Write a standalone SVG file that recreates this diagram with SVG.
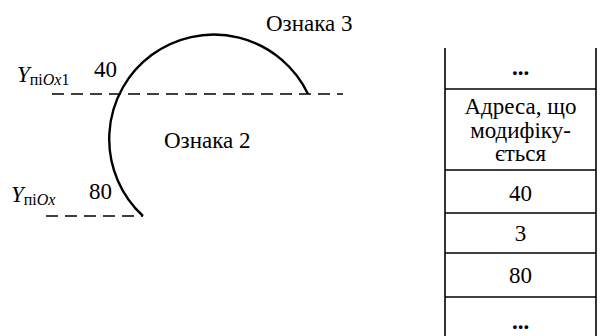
<svg xmlns="http://www.w3.org/2000/svg" width="600" height="336" viewBox="0 0 600 336" font-family="'Liberation Serif', 'DejaVu Serif', serif">
<style>
text{font-family:'Liberation Serif','DejaVu Serif',serif;font-size:23px;fill:#000}
.c{text-anchor:middle}
.i{font-style:italic}
.sub{font-size:16px}
.dash{stroke:#000;stroke-width:1.6;stroke-dasharray:12 7;fill:none}
.arc{stroke:#000;stroke-width:2.4;fill:none}
.tl{stroke:#000;stroke-width:1.6;fill:none}
.dots{font-weight:bold}
</style>
<rect width="600" height="336" fill="#fff"/>
<g id="connectors">
<line class="dash" x1="52" y1="94" x2="343" y2="94"/>
<line class="dash" x1="46" y1="216" x2="143" y2="216"/>
<path class="arc" d="M 308 94 A 104.5 104.5 0 1 0 143 216"/>
</g>
<g id="labels">
<text x="266" y="31">Ознака 3</text>
<text x="164" y="148">Ознака 2</text>
<text x="94" y="77">40</text>
<text x="89" y="199">80</text>
<text x="17" y="82"><tspan class="i">Y</tspan><tspan class="sub" dy="3">пі</tspan><tspan class="sub i">Ox</tspan><tspan class="sub">1</tspan></text>
<text x="11" y="202"><tspan class="i">Y</tspan><tspan class="sub" dy="3">пі</tspan><tspan class="sub i">Ox</tspan></text>
</g>
<g id="table">
<line class="tl" x1="445" y1="48" x2="445" y2="336"/>
<line class="tl" x1="596" y1="48" x2="596" y2="336"/>
<line class="tl" x1="445" y1="89" x2="596" y2="89"/>
<line class="tl" x1="445" y1="170" x2="596" y2="170"/>
<line class="tl" x1="445" y1="213" x2="596" y2="213"/>
<line class="tl" x1="445" y1="253" x2="596" y2="253"/>
<line class="tl" x1="445" y1="297" x2="596" y2="297"/>
</g>
<g id="cell-top"><text class="c dots" x="520.5" y="75">...</text></g>
<g id="cell-address">
<text class="c" x="520.5" y="114">Адреса, що</text>
<text class="c" x="520.5" y="138">модифіку-</text>
<text class="c" x="520.5" y="161">ється</text>
</g>
<g id="cell-40"><text class="c" x="520.5" y="201">40</text></g>
<g id="cell-3"><text class="c" x="520.5" y="241">3</text></g>
<g id="cell-80"><text class="c" x="520.5" y="283">80</text></g>
<g id="cell-bottom"><text class="c dots" x="520.5" y="329">...</text></g>
</svg>
